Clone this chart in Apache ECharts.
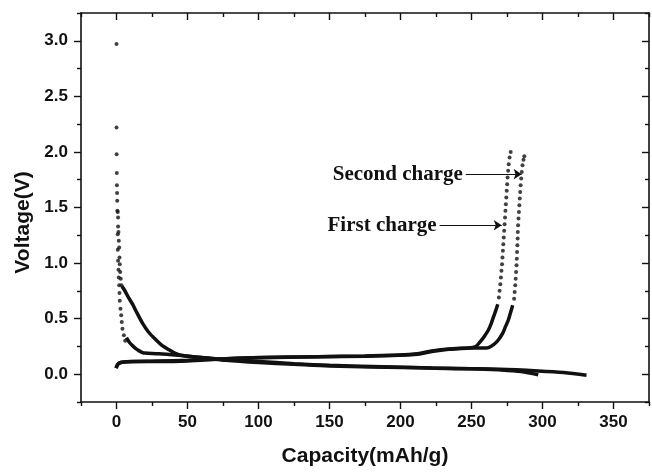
<!DOCTYPE html>
<html>
<head>
<meta charset="utf-8">
<script src="https://cdn.jsdelivr.net/npm/echarts@6.0.0/dist/echarts.min.js"></script>
<style>
  html, body { margin: 0; padding: 0; background: #fff; }
  #chart { width: 652px; height: 472px; }
</style>
</head>
<body>
<div id="chart"></div>
<script>
// tick positions
const xMajorTicks = [0, 50, 100, 150, 200, 250, 300, 350];
const xMinorTicks = [-25, 25, 75, 125, 175, 225, 275, 325, 375];
const yMajorTicks = [0, 0.5, 1.0, 1.5, 2.0, 2.5, 3.0];
const yMinorTicks = [-0.25, 0.25, 0.75, 1.25, 1.75, 2.25, 2.75, 3.25];

// first discharge: sparse points at high voltage, then a dense trace
const discharge1Dots = [
  [0, 2.97], [0, 2.22], [0.1, 1.98], [0.2, 1.81], [0.3, 1.70], [0.4, 1.63], [0.5, 1.56],
  [0.9, 1.46], [1.1, 1.41], [1.1, 1.33], [1.4, 1.28], [1.6, 1.20], [1.9, 1.14], [2.1, 1.05],
  [2.3, 0.99], [2.6, 0.92], [3.0, 0.86], [3.5, 0.80]
];
const discharge1Line = [
  [3.8, 0.79], [5.5, 0.76], [8, 0.70], [11.3, 0.63], [14.5, 0.55], [18.3, 0.46], [22.5, 0.38],
  [27.7, 0.31], [32, 0.26], [37, 0.22], [41, 0.19], [45.3, 0.17], [55, 0.155], [65, 0.145],
  [80, 0.13], [100, 0.115], [125, 0.095], [150, 0.08], [180, 0.07], [210, 0.06], [240, 0.05],
  [270, 0.045], [297, 0.03], [315, 0.015], [331, -0.01]
];

// second discharge
const discharge2Dots = [
  [0.6, 1.47], [0.9, 1.26], [0.9, 1.12], [1.1, 1.02], [1.4, 0.94], [1.6, 0.87], [1.9, 0.80],
  [2.1, 0.73], [2.3, 0.66], [2.8, 0.59], [3.3, 0.53], [3.7, 0.47], [4.2, 0.41], [5.2, 0.35],
  [6.1, 0.30]
];
const discharge2Line = [
  [7, 0.33], [8.9, 0.29], [11, 0.26], [13.6, 0.23], [16, 0.21], [18.3, 0.195], [20, 0.19],
  [30, 0.185], [44, 0.17], [60, 0.15], [77, 0.125], [100, 0.105], [125, 0.09], [150, 0.075],
  [180, 0.065], [222, 0.055], [250, 0.05], [269, 0.04], [285, 0.025], [297, -0.005]
];

// first charge
const charge1Line = [
  [-0.3, 0.055], [0.5, 0.08], [1.5, 0.095], [3.1, 0.105], [6, 0.11], [11, 0.115], [30, 0.115],
  [50, 0.12], [77, 0.14], [100, 0.148], [142, 0.158], [175, 0.162], [199, 0.17], [212, 0.18],
  [222, 0.205], [234, 0.225], [248, 0.235], [253, 0.25], [256, 0.29], [259, 0.34], [262, 0.40],
  [264, 0.46], [265.6, 0.52], [267, 0.57], [268.5, 0.63]
];
const charge1Dots = [
  [269.3, 0.69], [269.8, 0.75], [270.3, 0.81], [270.7, 0.87], [271.1, 0.93], [271.5, 0.99],
  [271.8, 1.05], [272.1, 1.11], [272.4, 1.17], [272.7, 1.23], [273, 1.29], [273.3, 1.35],
  [273.6, 1.41], [273.9, 1.47], [274.2, 1.53], [274.5, 1.59], [274.8, 1.65], [275.1, 1.71],
  [275.4, 1.77], [275.8, 1.83], [276.2, 1.89], [276.8, 1.95], [277.6, 2.0]
];

// second charge
const charge2Line = [
  [-0.3, 0.055], [1, 0.09], [3, 0.105], [8, 0.112], [30, 0.118], [50, 0.125], [77, 0.14],
  [100, 0.15], [142, 0.158], [175, 0.165], [199, 0.172], [212, 0.185], [222, 0.21], [234, 0.228],
  [250, 0.235], [258, 0.235], [262, 0.24], [266, 0.27], [269, 0.31], [272, 0.37], [274, 0.43],
  [276, 0.49], [277.4, 0.55], [279, 0.62]
];
const charge2Dots = [
  [280, 0.68], [280.4, 0.74], [280.8, 0.80], [281.1, 0.86], [281.4, 0.92], [281.7, 0.98],
  [281.9, 1.04], [282.1, 1.10], [282.3, 1.16], [282.5, 1.22], [282.6, 1.28], [282.8, 1.34],
  [283.1, 1.40], [283.4, 1.46], [283.7, 1.52], [284, 1.58], [284.3, 1.64], [284.6, 1.70],
  [285, 1.76], [285.4, 1.82], [285.9, 1.88], [286.6, 1.93], [287.2, 1.96]
];

// annotation arrows: [label, from x, to x, voltage]
const notes = [
  ['Second charge', 246, 285.3, 1.80],
  ['First charge', 227.5, 271.3, 1.34]
];

const ink = '#111';
const sans = 'Liberation Sans';

function axisPair(pos, majors, minors, min, max, extra) {
  const common = { type: 'value', min: min, max: max, position: pos, splitLine: { show: false } };
  const inside = pos === 'top' || pos === 'right';
  const major = Object.assign({}, common, {
    axisLine: { show: true, onZero: false, lineStyle: { color: ink, width: 1.6 } },
    axisTick: { show: true, inside: inside, customValues: majors, length: 7, lineStyle: { color: ink, width: 1.4 } },
    axisLabel: inside ? { show: false, customValues: majors } : Object.assign({
      show: true, customValues: majors, color: ink, fontFamily: sans, fontWeight: 'bold', fontSize: 17
    }, extra.label)
  }, extra.axis || {});
  const minor = Object.assign({}, common, {
    axisLine: { show: false, onZero: false },
    axisTick: { show: true, inside: inside, customValues: minors, length: 4, lineStyle: { color: ink, width: 1.4 } },
    axisLabel: { show: false, customValues: minors }
  });
  return [major, minor];
}

const chart = echarts.init(document.getElementById('chart'), null, { renderer: 'canvas' });

const xAxes = [].concat(
  axisPair('bottom', xMajorTicks, xMinorTicks, -25, 375, {
    label: { margin: 12 },
    axis: {
      name: 'Capacity(mAh/g)', nameLocation: 'middle', nameGap: 44,
      nameTextStyle: { color: ink, fontFamily: sans, fontWeight: 'bold', fontSize: 21 }
    }
  }),
  axisPair('top', xMajorTicks, xMinorTicks, -25, 375, {})
);
const yAxes = [].concat(
  axisPair('left', yMajorTicks, yMinorTicks, -0.25, 3.25, {
    label: { margin: 13, formatter: (v) => v.toFixed(1) },
    axis: {
      name: 'Voltage(V)', nameLocation: 'middle', nameGap: 47,
      nameTextStyle: { color: ink, fontFamily: sans, fontWeight: 'bold', fontSize: 21, padding: [0, 30, 0, 0] }
    }
  }),
  axisPair('right', yMajorTicks, yMinorTicks, -0.25, 3.25, {})
);

function lineSeries(data) {
  return {
    type: 'line', data: data, showSymbol: false, symbol: 'none', smooth: 0.3,
    lineStyle: { color: ink, width: 3.5 }, silent: true, z: 3
  };
}
function dotSeries(data) {
  return {
    type: 'scatter', data: data, symbol: 'circle', symbolSize: 4,
    itemStyle: { color: ink }, silent: true, z: 3
  };
}

const arrowSeries = {
  type: 'line', data: [], silent: true,
  markLine: {
    silent: true, animation: false,
    symbol: ['none', 'arrow'], symbolSize: 8,
    lineStyle: { color: ink, width: 1.2, type: 'solid' },
    label: {
      show: true, position: 'start', distance: 3, formatter: '{b}',
      color: ink, fontFamily: 'Liberation Serif', fontWeight: 'bold', fontSize: 21
    },
    data: notes.map((n) => [
      { name: n[0], coord: [n[1], n[3]] },
      { coord: [n[2], n[3]] }
    ])
  }
};

chart.setOption({
  animation: false,
  backgroundColor: '#fff',
  grid: { left: 81, right: 3, top: 13, bottom: 65, containLabel: false },
  xAxis: xAxes,
  yAxis: yAxes,
  series: [
    lineSeries(discharge1Line), dotSeries(discharge1Dots),
    lineSeries(discharge2Line), dotSeries(discharge2Dots),
    lineSeries(charge1Line), dotSeries(charge1Dots),
    lineSeries(charge2Line), dotSeries(charge2Dots),
    arrowSeries
  ]
});
</script>
</body>
</html>
